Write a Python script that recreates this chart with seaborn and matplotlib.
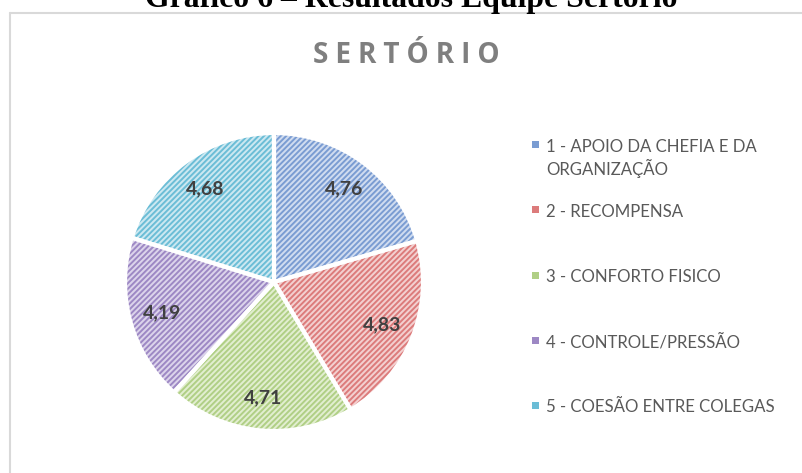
import matplotlib
matplotlib.use("Agg")
import matplotlib.pyplot as plt
import seaborn as sns
import numpy as np
from matplotlib.patches import Rectangle
from matplotlib.lines import Line2D

# ---- data ----
categories = ["1 - APOIO DA CHEFIA E DA\nORGANIZAÇÃO", "2 - RECOMPENSA",
              "3 - CONFORTO FISICO", "4 - CONTROLE/PRESSÃO",
              "5 - COESÃO ENTRE COLEGAS"]
values = [4.76, 4.83, 4.71, 4.19, 4.68]
value_labels = ["4,76", "4,83", "4,71", "4,19", "4,68"]
chart_title = "SERTÓRIO"
caption = "Gráfico 6 – Resultados Equipe Sertório"

# ---- style ----
sns.set_theme(style="white")
plt.rcParams["font.family"] = ["Lato", "DejaVu Sans"]
plt.rcParams["hatch.linewidth"] = 1.4

dark = ["#7a9cd2", "#dc7b7b", "#b0cf85", "#9d88c4", "#6bbdd6"]
light = ["#d0dcf0", "#f3d0d0", "#e2eed0", "#dcd4eb", "#cce8f1"]

W, H = 802, 473
fig = plt.figure(figsize=(W / 100, H / 100), dpi=100)
fig.patch.set_facecolor("white")
renderer = fig.canvas.get_renderer()


def fx(px):
    return px / W


def fy(py):
    return 1 - py / H


def fit_width(t, target):
    """scale the font of text t so its width is target pixels"""
    w = t.get_window_extent(renderer).width
    t.set_fontsize(t.get_fontsize() * target / w)


# chart frame (left and top edges visible)
fig.add_artist(Line2D([fx(10), fx(10)], [fy(13.5), 0], color="#d9d9d9", lw=1.5))
fig.add_artist(Line2D([fx(10), 1], [fy(13.5), fy(13.5)], color="#d9d9d9", lw=1.5))

# caption (cut at the top, as in the source document)
cap = fig.text(fx(411), fy(7), caption, ha="center", va="baseline",
               family=["Liberation Serif", "DejaVu Serif"], fontweight="bold",
               fontsize=23, color="black")
fit_width(cap, 533)

# chart title with letter spacing
fig.text(fx(406), fy(63), "\u2005".join(chart_title), ha="center",
         va="baseline", family=["Open Sans", "DejaVu Sans"],
         fontweight="bold", fontsize=20.2, color="#7f7f7f")

# ---- pie ----
cx, cy, r = 274, 282, 149
ax = fig.add_axes([fx(cx - r), fy(cy + r), 2 * r / W, 2 * r / H])
wedges, _ = ax.pie(values, startangle=90, counterclock=False, colors=light,
                   wedgeprops=dict(linewidth=0))
for w, c in zip(wedges, dark):
    w.set_edgecolor(c)
    w.set_hatch("//////")
    w.set_linewidth(0)
ax.pie(values, startangle=90, counterclock=False,
       wedgeprops=dict(fill=False, edgecolor="white", linewidth=3))
ax.set_xlim(-1, 1)
ax.set_ylim(-1, 1)
ax.set_axis_off()

probe = fig.text(0, 0, value_labels[0], fontsize=13, fontweight="bold")
fit_width(probe, 38)
lab_fs = probe.get_fontsize()
probe.remove()
for w, lab in zip(wedges, value_labels):
    ang = np.deg2rad((w.theta1 + w.theta2) / 2)
    ax.text(0.78 * np.cos(ang), 0.78 * np.sin(ang), lab, ha="center",
            va="center", fontsize=lab_fs, fontweight="bold", color="#404040")

# ---- legend ----
probe = fig.text(0, 0, categories[0].split("\n")[0], fontsize=12)
fit_width(probe, 211)
leg_fs = probe.get_fontsize()
probe.remove()
for i, (lab, c) in enumerate(zip(categories, dark)):
    yc = 145 + 65 * i
    s = 7
    fig.add_artist(Rectangle((fx(535 - s / 2), fy(yc + s / 2)), s / W, s / H,
                             transform=fig.transFigure, facecolor=c,
                             edgecolor="none"))
    fig.text(fx(546), fy(yc - 6), lab, ha="left", va="top", fontsize=leg_fs,
             color="#595959", linespacing=1.25)

fig.savefig("out.png", dpi=100)
